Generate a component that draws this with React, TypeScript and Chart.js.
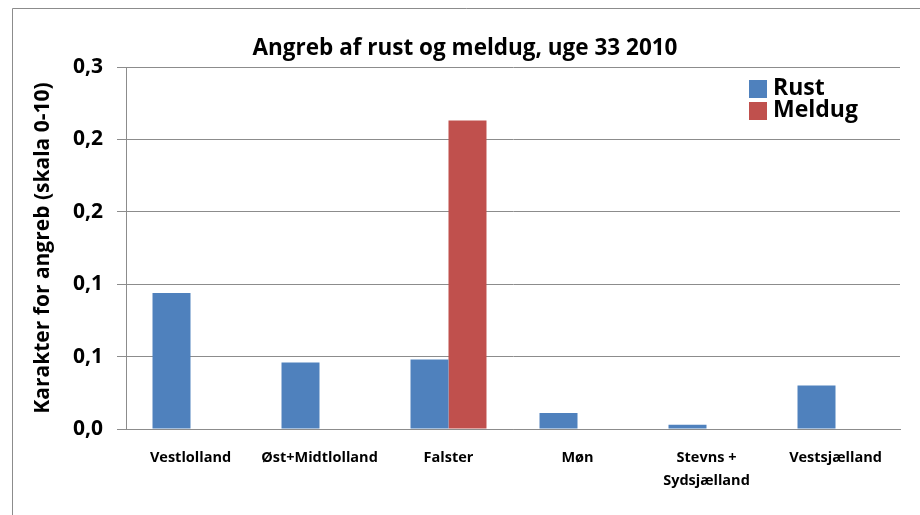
import React, { useEffect, useRef } from "react";
import { Chart, registerables } from "chart.js";

Chart.register(...registerables);

const chartTitle = "Angreb af rust og meldug, uge 33 2010";
const yAxisTitle = "Karakter for angreb (skala 0-10)";
const categories: (string | string[])[] = [
  "Vestlolland",
  "Øst+Midtlolland",
  "Falster",
  "Møn",
  ["Stevns +", "Sydsjælland"],
  "Vestsjælland",
];
const rustValues = [0.094, 0.046, 0.048, 0.011, 0.003, 0.03];
const meldugValues = [0, 0, 0.213, 0, 0, 0];
const yTickValues = [0, 0.05, 0.1, 0.15, 0.2, 0.25];
const yTickLabels = ["0,0", "0,1", "0,1", "0,2", "0,2", "0,3"];

const FONT = "'Open Sans', Lato, sans-serif";

const legendAndFrame = {
  id: "legendAndFrame",
  beforeDraw(chart: any) {
    const ctx = chart.ctx;
    ctx.save();
    ctx.fillStyle = "#ffffff";
    ctx.fillRect(0, 0, chart.width, chart.height);
    ctx.strokeStyle = "#8c8c8c";
    ctx.lineWidth = 1;
    ctx.beginPath();
    ctx.moveTo(12.5, chart.height);
    ctx.lineTo(12.5, 8.5);
    ctx.lineTo(chart.width, 8.5);
    ctx.stroke();
    ctx.restore();
  },
  afterDraw(chart: any) {
    const ctx = chart.ctx;
    const area = chart.chartArea;
    const x0 = area.right - 151;
    let y0 = area.top + 13;
    ctx.save();
    ctx.font = `bold 23px ${FONT}`;
    ctx.textBaseline = "middle";
    ctx.textAlign = "left";
    chart.data.datasets.forEach((ds: any) => {
      ctx.fillStyle = ds.backgroundColor;
      ctx.fillRect(x0, y0, 18, 18);
      ctx.fillStyle = "#000000";
      ctx.fillText(ds.label, x0 + 24, y0 + 8);
      y0 += 22;
    });
    ctx.restore();
  },
};

export default function App() {
  const ref = useRef<HTMLCanvasElement | null>(null);

  useEffect(() => {
    document.body.style.margin = "0";
    if (!ref.current) return;
    const chart = new Chart(ref.current, {
      type: "bar",
      data: {
        labels: categories,
        datasets: [
          {
            label: "Rust",
            data: rustValues,
            backgroundColor: "#4F81BD",
            categoryPercentage: 0.589,
            barPercentage: 1,
          },
          {
            label: "Meldug",
            data: meldugValues,
            backgroundColor: "#C0504D",
            categoryPercentage: 0.589,
            barPercentage: 1,
          },
        ],
      },
      options: {
        responsive: false,
        animation: false,
        layout: { padding: { left: 30, right: 20, top: 0, bottom: 0 } },
        plugins: {
          legend: { display: false },
          tooltip: { enabled: false },
          title: {
            display: true,
            text: chartTitle,
            color: "#000000",
            font: { family: FONT, size: 22.5, weight: "bold", lineHeight: 1.2 },
            padding: { top: 35, bottom: 5 },
          },
        },
        scales: {
          x: {
            grid: { display: false, drawTicks: false },
            border: { display: true, color: "#8c8c8c" },
            ticks: {
              color: "#000000",
              font: { family: FONT, size: 14.5, weight: "bold", lineHeight: 1.6 },
              padding: 17,
              maxRotation: 0,
              autoSkip: false,
            },
            afterFit: (scale: any) => {
              scale.height = 86;
            },
          },
          y: {
            min: 0,
            max: 0.25,
            afterBuildTicks: (scale: any) => {
              scale.ticks = yTickValues.map((v) => ({ value: v }));
            },
            grid: { color: "#8c8c8c", tickLength: 9, drawTicks: true },
            border: { display: true, color: "#8c8c8c" },
            ticks: {
              color: "#000000",
              font: { family: FONT, size: 21, weight: "bold" },
              padding: 14,
              callback: (_v: any, i: number) => yTickLabels[i],
            },
            title: {
              display: true,
              text: yAxisTitle,
              color: "#000000",
              font: { family: FONT, size: 21, weight: "bold" },
              padding: { top: 0, bottom: 0 },
            },
            afterFit: (scale: any) => {
              scale.width = 96;
            },
          },
        },
      },
      plugins: [legendAndFrame],
    });
    return () => chart.destroy();
  }, []);

  return (
    <div style={{ width: 920, height: 515 }}>
      <canvas ref={ref} width={920} height={515} />
    </div>
  );
}
